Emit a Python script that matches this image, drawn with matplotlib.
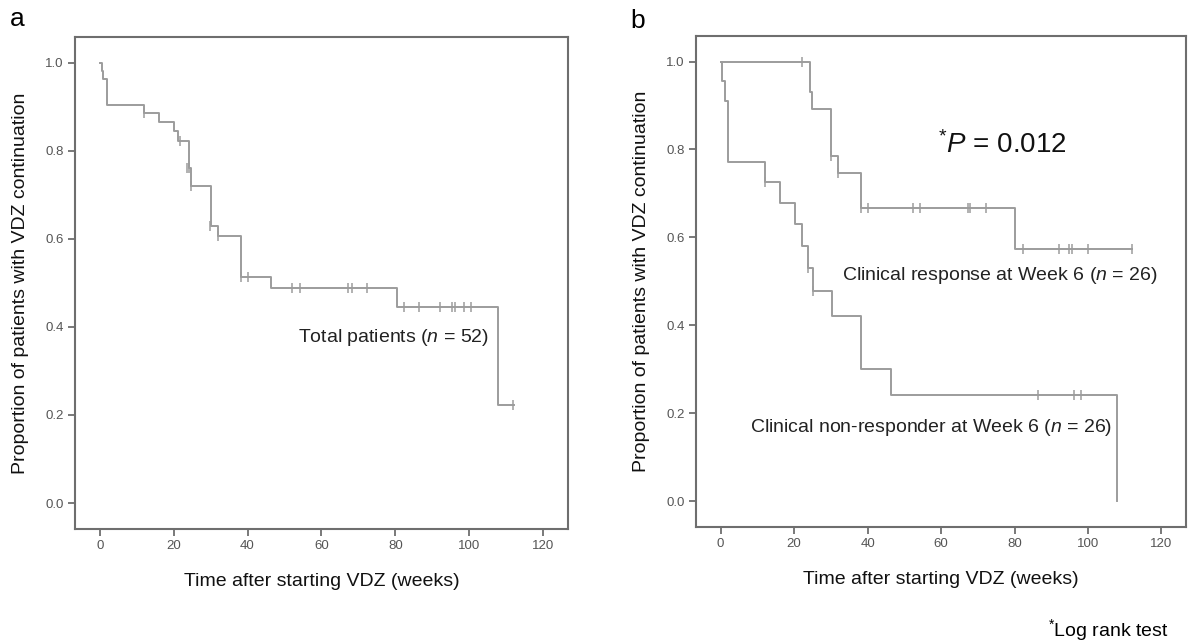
import matplotlib
matplotlib.use("Agg")
import matplotlib.pyplot as plt

plt.rcParams['font.family'] = ['Liberation Sans', 'DejaVu Sans']
plt.rcParams['mathtext.fontset'] = 'custom'
plt.rcParams['mathtext.rm'] = 'Liberation Sans'
plt.rcParams['mathtext.it'] = 'Liberation Sans:italic'

# panel a: all patients (step start times and survival level)
a_times = [0, 0.5, 1, 2, 12, 16, 20, 21.2, 24.1, 24.8, 30.1, 31.9, 38.2, 46.3, 80.4, 107.8]
a_surv = [1.0, 0.981, 0.962, 0.904, 0.885, 0.865, 0.845, 0.823, 0.760, 0.719, 0.630, 0.607, 0.514, 0.488, 0.445, 0.222]
a_end = 112
a_cens_t = [12, 21.7, 23.6, 24.2, 24.6, 29.9, 31.9, 38.1, 40.0, 52.1, 54.2, 67.3, 68.2, 72.3,
            82.2, 86.3, 92.1, 95.3, 96.2, 98.5, 100.5, 111.8]
a_cens_s = [0.885, 0.823, 0.760, 0.760, 0.719, 0.630, 0.607, 0.514, 0.514, 0.488, 0.488, 0.488, 0.488, 0.488,
            0.445, 0.445, 0.445, 0.445, 0.445, 0.445, 0.445, 0.222]

# panel b: responders
r_times = [0, 24.2, 24.8, 30.1, 31.9, 38.2, 80.2]
r_surv = [1.0, 0.93, 0.893, 0.785, 0.747, 0.667, 0.574]
r_end = 112
r_cens_t = [22.1, 30.0, 31.9, 38.1, 40.2, 52.4, 54.2, 67.3, 68.0, 72.3, 82.2, 92.1, 94.9, 95.7, 100.1, 112]
r_cens_s = [1.0, 0.785, 0.747, 0.667, 0.667, 0.667, 0.667, 0.667, 0.667, 0.667,
            0.574, 0.574, 0.574, 0.574, 0.574, 0.574]

# panel b: non-responders
n_times = [0, 0.3, 1.1, 2, 12, 16.1, 20.3, 22.1, 23.9, 25.0, 30.3, 38.2, 46.3, 108]
n_surv = [1.0, 0.955, 0.911, 0.772, 0.727, 0.679, 0.630, 0.580, 0.531, 0.478, 0.421, 0.300, 0.241, 0.0]
n_end = 108
n_cens_t = [12, 23.9, 25.1, 86.3, 96.2, 98.0]
n_cens_s = [0.727, 0.531, 0.478, 0.241, 0.241, 0.241]

LINE = '#9c9c9c'
SPINE = '#6e6e6e'
TICKC = '#555555'


def km(ax, times, surv, end, ct, cs):
    xs = list(times) + [end]
    ys = list(surv) + [surv[-1]]
    ax.step(xs, ys, where='post', color=LINE, lw=1.4)
    ax.plot(ct, cs, ls='none', marker='|', ms=7, mew=1.1, color=LINE)


def style(ax):
    ax.set_xlim(-6.7, 126.7)
    ax.set_ylim(-0.059, 1.058)
    ax.set_xticks([0, 20, 40, 60, 80, 100, 120])
    ax.set_yticks([0.0, 0.2, 0.4, 0.6, 0.8, 1.0])
    ax.set_yticklabels(['0.0', '0.2', '0.4', '0.6', '0.8', '1.0'])
    for s in ax.spines.values():
        s.set_color(SPINE)
        s.set_linewidth(1.5)
    ax.tick_params(direction='out', length=5, width=1.3, color=SPINE,
                   labelcolor=TICKC, labelsize=9.5, pad=3)
    ax.set_xlabel('Time after starting VDZ (weeks)', fontsize=14, labelpad=15, color='#111111')
    ax.set_ylabel('Proportion of patients with VDZ continuation', fontsize=14, labelpad=12, color='#111111')


fig = plt.figure(figsize=(11.88, 6.41), dpi=100)
ax1 = fig.add_axes([0.0631, 0.1747, 0.4150, 0.7673])
ax2 = fig.add_axes([0.5859, 0.1778, 0.4125, 0.7660])

km(ax1, a_times, a_surv, a_end, a_cens_t, a_cens_s)
style(ax1)
ax1.text(298 / 1188, 1 - 338 / 641, 'Total patients ($n$ = 52)', transform=fig.transFigure,
         fontsize=14, va='center', ha='left', color='#222222')

km(ax2, r_times, r_surv, r_end, r_cens_t, r_cens_s)
km(ax2, n_times, n_surv, n_end, n_cens_t, n_cens_s)
style(ax2)
ax2.text(842 / 1188, 1 - 276 / 641, 'Clinical response at Week 6 ($n$ = 26)', transform=fig.transFigure,
         fontsize=14, va='center', ha='left', color='#222222')
ax2.text(750 / 1188, 1 - 427 / 641, 'Clinical non-responder at Week 6 ($n$ = 26)', transform=fig.transFigure,
         fontsize=14, va='center', ha='left', color='#222222')
ax2.text(938 / 1188, 1 - 145 / 641, '$^{*}P$ = 0.012', transform=fig.transFigure,
         fontsize=20, va='center', ha='left', color='#111111')

fig.text(10 / 1188, 1 - 19 / 641, 'a', fontsize=19, va='center', ha='left')
fig.text(630 / 1188, 1 - 21 / 641, 'b', fontsize=19, va='center', ha='left')
fig.text(1168 / 1188, 1 - 630 / 641, '$^{*}$Log rank test', fontsize=14, va='center', ha='right')

fig.savefig('out.png', dpi=100)
